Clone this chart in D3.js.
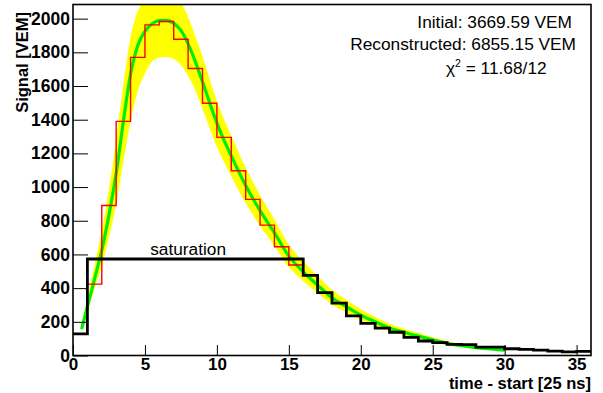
<!DOCTYPE html>
<html>
<head>
<meta charset="utf-8">
<script src="https://cdn.jsdelivr.net/npm/d3@7"></script>
<style>
body { margin: 0; background: #fff; }
svg { display: block; }
text { font-family: "Liberation Sans", Arial, Helvetica, sans-serif; }
</style>
</head>
<body>
<svg></svg>
<script>
const width = 603
const height = 393
const marginTop = 4.5
const marginRight = 12
const marginBottom = 37.5
const marginLeft = 73

// tick labels
const xTicks = [0, 5, 10, 15, 20, 25, 30, 35]
const yTicks = [0, 200, 400, 600, 800, 1000, 1200, 1400, 1600, 1800, 2000]

// black trace, one value per 25 ns bin starting at 0 (bins 1-15 saturated)
const blackValues = [128, 573, 573, 573, 573, 573, 573, 573, 573, 573, 573, 573, 573, 573, 573, 573,
    476, 373, 311, 235, 191, 162, 138, 108, 86, 76, 66, 64, 50, 50, 40, 36, 32, 26, 22, 25]

// red (reconstructed) trace, bins 1..15
const redStart = 1
const redValues = [424, 891, 1390, 1770, 1963, 1983, 1878, 1704, 1498, 1295, 1097, 927, 774, 646, 537]

// fit curve and its error band
const fitX = [0.6, 1, 1.5, 2, 2.5, 3, 3.5, 4, 4.5, 5, 5.5, 6, 6.5, 7, 7.5, 8, 8.5, 9, 9.5, 10,
    11, 12, 13, 14, 15, 16, 17, 18, 19, 20, 21, 22, 23, 24, 25, 26, 27, 28, 29, 30]
const fitY = [157, 290, 455, 625, 835, 1081, 1390, 1670, 1840, 1925, 1970, 1988, 1990, 1972, 1930, 1850, 1745, 1625, 1500, 1380,
    1185, 1010, 860, 728, 590, 497, 418, 343, 290, 240, 200, 163, 138, 115, 93, 72, 58, 47, 39, 32]
const bandUpper = [190, 340, 535, 740, 990, 1280, 1610, 1890, 2045, 2115, 2155, 2172, 2172, 2150, 2095, 2010, 1895, 1775, 1640, 1510,
    1305, 1115, 952, 808, 658, 559, 472, 390, 330, 274, 229, 188, 159, 133, 108, 84, 67, 54, 44, 36]
const bandLower = [145, 260, 395, 530, 700, 900, 1150, 1390, 1570, 1675, 1745, 1770, 1772, 1760, 1725, 1660, 1575, 1465, 1350, 1240,
    1065, 905, 770, 650, 525, 442, 371, 303, 256, 211, 175, 142, 120, 100, 81, 62, 50, 41, 34, 28]

const infoLines = ["Initial: 3669.59 VEM", "Reconstructed: 6855.15 VEM"]
const chi2 = "11.68/12"

const svg = d3.select("svg")
    .attr("width", width)
    .attr("height", height)

const x = d3.scaleLinear().domain([0, 36]).range([marginLeft, width - marginRight])
const y = d3.scaleLinear().domain([0, 2084]).range([height - marginBottom, marginTop])

svg.append("clipPath").attr("id", "frame")
    .append("rect")
    .attr("x", marginLeft).attr("y", marginTop)
    .attr("width", width - marginLeft - marginRight)
    .attr("height", height - marginTop - marginBottom)

const plot = svg.append("g").attr("clip-path", "url(#frame)")

// error band
const fitData = fitX.map((t, i) => ({t, v: fitY[i], hi: bandUpper[i], lo: bandLower[i]}))
plot.append("path")
    .datum(fitData)
    .attr("fill", "#ffff00")
    .attr("d", d3.area().x(d => x(d.t)).y0(d => y(d.lo)).y1(d => y(d.hi)).curve(d3.curveMonotoneX))

// fit
plot.append("path")
    .datum(fitData)
    .attr("fill", "none")
    .attr("stroke", "#00ee00")
    .attr("stroke-width", 3.2)
    .attr("d", d3.line().x(d => x(d.t)).y(d => y(d.v)).curve(d3.curveMonotoneX))

const step = d3.line().x(d => x(d[0])).y(d => y(d[1])).curve(d3.curveStepAfter)

// red histogram
const redPts = redValues.map((v, i) => [redStart + i, v])
redPts.push([redStart + redValues.length, redValues[redValues.length - 1]])
plot.append("path")
    .datum(redPts)
    .attr("fill", "none")
    .attr("stroke", "#ff0000")
    .attr("stroke-width", 1.4)
    .attr("d", step)

// black histogram
const blackPts = blackValues.map((v, i) => [i, v])
blackPts.push([blackValues.length, blackValues[blackValues.length - 1]])
plot.append("path")
    .datum(blackPts)
    .attr("fill", "none")
    .attr("stroke", "#000")
    .attr("stroke-width", 2.8)
    .attr("d", step)

// axes
const yAxis = svg.append("g").attr("transform", `translate(${marginLeft},0)`)
yAxis.call(d3.axisLeft(y).tickValues(d3.range(0, 2051, 50)).tickSize(-7.5).tickFormat(""))
yAxis.call(d3.axisLeft(y).tickValues(yTicks).tickSize(-15).tickPadding(3).tickFormat(d3.format("d")))
yAxis.selectAll(".domain").remove()
yAxis.selectAll("text").attr("font-size", 17.5).attr("font-weight", "bold").attr("font-family", null)

const xAxis = svg.append("g").attr("transform", `translate(0,${height - marginBottom})`)
xAxis.call(d3.axisBottom(x).tickValues(d3.range(0, 36, 1)).tickSize(-5.3).tickFormat(""))
xAxis.call(d3.axisBottom(x).tickValues(xTicks).tickSize(-10.5).tickPadding(2.5).tickFormat(d3.format("d")))
xAxis.selectAll(".domain").remove()
xAxis.selectAll("text").attr("font-size", 17).attr("font-weight", "bold").attr("font-family", null)

// frame
svg.append("rect")
    .attr("x", marginLeft).attr("y", marginTop)
    .attr("width", width - marginLeft - marginRight)
    .attr("height", height - marginTop - marginBottom)
    .attr("fill", "none")
    .attr("stroke", "#000")
    .attr("stroke-width", 1.6)

// axis titles
svg.append("text")
    .attr("transform", "translate(28,12) rotate(-90)")
    .attr("text-anchor", "end")
    .attr("font-size", 16.5)
    .attr("font-weight", "bold")
    .text("Signal [VEM]")

svg.append("text")
    .attr("x", width - marginRight)
    .attr("y", 389)
    .attr("text-anchor", "end")
    .attr("font-size", 16.5)
    .attr("font-weight", "bold")
    .text("time - start [25 ns]")

// info text
svg.append("text")
    .attr("x", 572).attr("y", 28)
    .attr("text-anchor", "end")
    .attr("font-size", 17.3)
    .text(infoLines[0])

svg.append("text")
    .attr("x", 576).attr("y", 50)
    .attr("text-anchor", "end")
    .attr("font-size", 17.3)
    .text(infoLines[1])

const chiText = svg.append("text")
    .attr("x", 446).attr("y", 74)
    .attr("font-size", 17.3)
chiText.append("tspan").text("\u03c7")
chiText.append("tspan").attr("font-size", 10.5).attr("dy", -7).text("2")
chiText.append("tspan").attr("dy", 7).text(" = " + chi2)

svg.append("text")
    .attr("x", x(8)).attr("y", 255)
    .attr("text-anchor", "middle")
    .attr("font-size", 17.3)
    .text("saturation")
</script>
</body>
</html>
